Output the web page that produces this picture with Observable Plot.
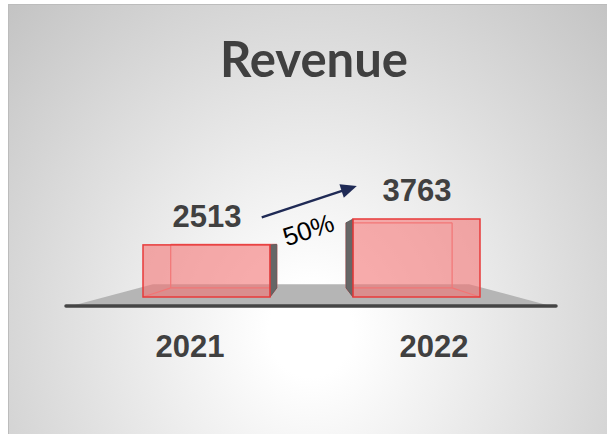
<!DOCTYPE html>
<html><head><meta charset="utf-8">
<script src="https://cdn.jsdelivr.net/npm/d3@7"></script>
<script src="https://cdn.jsdelivr.net/npm/@observablehq/plot@0.6"></script>
<style>
html,body{margin:0;padding:0;background:#fff;}
#wrap{position:relative;width:607px;height:434px;overflow:hidden;}
#slide{position:absolute;left:8px;top:4px;width:599px;height:430px;border-top:1px solid #bcbcbc;border-left:1px solid #bcbcbc;
 background:radial-gradient(ellipse 420px 460px at 302px 326px,#ffffff 0%,#ffffff 10%,#c4c4c4 100%);}
#title{position:absolute;left:314px;top:34px;transform:translateX(-50%);font-family:Lato,'Open Sans',sans-serif;font-weight:700;font-size:49px;line-height:49px;color:#404040;white-space:nowrap;}
#chart{position:absolute;left:0;top:0;}
</style></head>
<body><div id="wrap"><div id="slide"></div><div id="title"></div><div id="chart"></div></div>
<script>
const title = "Revenue";
const years = ["2021", "2022"];
const revenue = [2513, 3763];

document.getElementById("title").textContent = title;
const data = years.map((year, i) => ({year, value: revenue[i], i}));
const numFont = "'Liberation Sans', Arial, sans-serif";
const spread = 34;

const plot = Plot.plot({
  width: 607, height: 434,
  marginLeft: 66, marginRight: 51, marginTop: 0, marginBottom: 0,
  x: {type: "band", domain: years, paddingInner: 0.397, paddingOuter: 0.365, axis: null},
  y: {domain: [0, 10000], range: [297, 89.7], axis: null},
  style: {background: "transparent", overflow: "visible"},
  marks: [
    Plot.ruleY([0], {dy: 8.5, stroke: "#454545", strokeWidth: 3.5, strokeLinecap: "round"}),
    Plot.barY(data, {x: "year", y: "value", fill: "#f47272", fillOpacity: 0.58, stroke: "#e83a3a", strokeWidth: 1.5}),
    Plot.text(data, {x: "year", y: "value", text: d => String(d.value), dy: -18, lineAnchor: "bottom",
      fontSize: 31, fontWeight: "bold", fill: "#404040", fontFamily: numFont}),
    ...data.map((d, i) => Plot.text([d], {x: "year", y: () => 0, text: "year",
      dx: (i - (data.length - 1) / 2) * spread, dy: 59, lineAnchor: "bottom",
      fontSize: 31, fontWeight: "bold", fill: "#404040", fontFamily: numFont}))
  ]
});
document.getElementById("chart").appendChild(plot);

// 3D decorations derived from the plot's scales
const svg = d3.select(plot);
const xs = plot.scale("x"), ys = plot.scale("y");
const bw = xs.bandwidth;
const y0 = ys.apply(0);
const V = {x: (xs.range[0] + xs.range[1]) / 2, y: y0 - 55};
const back = (p, t) => ({x: p.x + t * (V.x - p.x), y: p.y + t * (V.y - p.y)});
const barNode = svg.select('g[aria-label="bar"]').node();

// floor
const floorG = svg.insert("g", () => plot.firstChild.nextSibling);
const fl = {x: xs.range[0] + 9, y: y0 + 8}, fr = {x: xs.range[1] - 9, y: y0 + 8};
const bl = back(fl, 0.33), br = back(fr, 0.33);
floorG.append("polygon").attr("points", [fl, fr, br, bl].map(p => p.x + "," + p.y).join(" "))
  .attr("fill", "#b5b5b5");

// box back faces & sides
const boxG = d3.create("svg:g");
plot.insertBefore(boxG.node(), barNode);
const t = 0.165;
data.forEach(d => {
  const L = xs.apply(d.year), R = L + bw, T = ys.apply(d.value), B = y0;
  const FLT = {x: L, y: T}, FRT = {x: R, y: T}, FLB = {x: L, y: B}, FRB = {x: R, y: B};
  const BLT = back(FLT, t), BRT = back(FRT, t), BLB = back(FLB, t), BRB = back(FRB, t);
  const poly = ps => ps.map(p => p.x + "," + p.y).join(" ");
  const line = (a, b) => boxG.append("line").attr("x1", a.x).attr("y1", a.y).attr("x2", b.x).attr("y2", b.y)
    .attr("stroke", "#f07a7a").attr("stroke-width", 1.2);
  line(BLT, BLB); line(BRT, BRB); line(BLB, BRB); line(BLT, BRT);
  line(FLB, BLB); line(FRB, BRB);
  if (BLT.x < FLT.x) boxG.append("polygon").attr("points", poly([FLT, BLT, BLB, FLB]))
    .attr("fill", "#666").attr("stroke", "#555").attr("stroke-width", 0.8);
  if (BRT.x > FRT.x) boxG.append("polygon").attr("points", poly([FRT, BRT, BRB, FRB]))
    .attr("fill", "#666").attr("stroke", "#555").attr("stroke-width", 0.8);
});

// growth arrow
const d0 = data[0], d1 = data[1];
const s = {x: xs.apply(d0.year) + 0.935 * bw, y: ys.apply(d0.value) - 27.5};
const e = {x: xs.apply(d1.year) + 0.03 * bw, y: ys.apply(d1.value) - 33};
const ang = Math.atan2(e.y - s.y, e.x - s.x);
const hl = 16, hw = 7;
const base = {x: e.x - hl * Math.cos(ang), y: e.y - hl * Math.sin(ang)};
const ag = svg.append("g");
ag.append("line").attr("x1", s.x).attr("y1", s.y).attr("x2", base.x + 2 * Math.cos(ang)).attr("y2", base.y + 2 * Math.sin(ang))
  .attr("stroke", "#1f2a55").attr("stroke-width", 2.5);
ag.append("polygon").attr("points", [
  [e.x, e.y],
  [base.x + hw * Math.sin(ang), base.y - hw * Math.cos(ang)],
  [base.x - hw * Math.sin(ang), base.y + hw * Math.cos(ang)]
].map(p => p.join(",")).join(" ")).attr("fill", "#1f2a55");
const pct = Math.round((d1.value - d0.value) / d0.value * 100) + "%";
const mx = (s.x + e.x) / 2 - 1, my = (s.y + e.y) / 2 + 28;
ag.append("text").attr("x", 0).attr("y", 0).attr("transform", `translate(${mx},${my}) rotate(${ang * 180 / Math.PI})`)
  .attr("text-anchor", "middle").attr("dy", "0.35em")
  .attr("font-family", numFont).attr("font-size", 26).attr("fill", "#000").text(pct);
</script>
</body></html>
